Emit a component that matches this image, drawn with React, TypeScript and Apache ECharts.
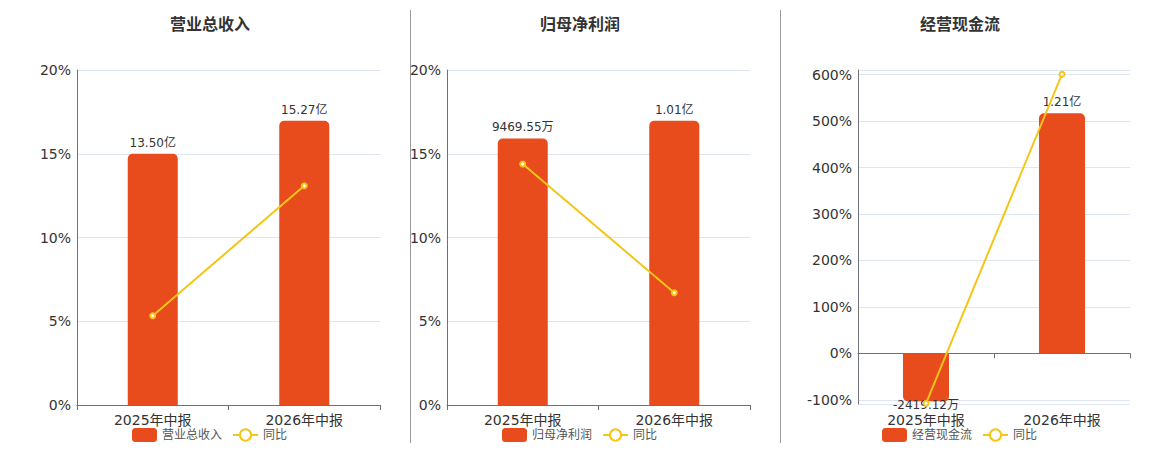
import React, { useEffect, useRef } from "react";
import * as echarts from "echarts";

// ---- data ----
const categories = ["2025年中报", "2026年中报"];
const panelTitles = ["营业总收入", "归母净利润", "经营现金流"];
const yoyName = "同比";

// values in 亿
const revenueValues = [13.5, 15.27];
const revenueLabels = ["13.50亿", "15.27亿"];
const revenueYoY = [5.33, 13.09];

const profitValues = [0.946955, 1.01];
const profitLabels = ["9469.55万", "1.01亿"];
const profitYoY = [14.39, 6.7];

const cashValues = [-0.241912, 1.21];
const cashLabels = ["-2419.12万", "1.21亿"];
const cashYoY = [-107.5, 601];

// axis ranges
const pctAxisMin = [0, 0, -109];
const pctAxisMax = [20, 20, 610];
const pctAxisInterval: (number | undefined)[] = [5, 5, undefined];
const barAxisMin = [0, 0, -0.2552];
const barAxisMax = [18, 1.19, 1.428];

const BAR_COLOR = "#E84B1C";
const LINE_COLOR = "#F5C518";
const FONT = "DejaVu Sans, 'Noto Sans CJK SC', sans-serif";

const panels = [
  { left: 77, width: 303, top: 70, height: 335, center: 210, barWidth: 50, legendLeft: 132, values: revenueValues, labels: revenueLabels, yoy: revenueYoY },
  { left: 447, width: 303, top: 70, height: 335, center: 580, barWidth: 50, legendLeft: 502, values: profitValues, labels: profitLabels, yoy: profitYoY },
  { left: 858, width: 272, top: 70, height: 334, center: 960, barWidth: 46, legendLeft: 882, values: cashValues, labels: cashLabels, yoy: cashYoY },
];

function buildOption() {
  const grid: any[] = [];
  const xAxis: any[] = [];
  const yAxis: any[] = [];
  const series: any[] = [];
  const legend: any[] = [];
  const title: any[] = [];

  panels.forEach((p, i) => {
    grid.push({
      left: p.left,
      top: p.top,
      width: p.width,
      height: p.height,
      containLabel: false,
      outerBoundsMode: "none",
    });
    title.push({
      text: panelTitles[i],
      left: p.center,
      top: 16,
      padding: 0,
      textAlign: "center",
      textStyle: { fontSize: 16, fontWeight: "bold", color: "#333", fontFamily: FONT },
    });
    const hasNeg = pctAxisMin[i] < 0;
    const mainXIndex = xAxis.length;
    xAxis.push({
      type: "category",
      gridIndex: i,
      data: categories,
      axisLine: { show: true, onZero: true, lineStyle: { color: "#6E7079" } },
      axisTick: { show: true, lineStyle: { color: "#6E7079" } },
      axisLabel: { show: !hasNeg, fontSize: 14, color: "#333", fontFamily: FONT, margin: 8 },
    });
    if (hasNeg) {
      // label-only axis at the grid bottom
      xAxis.push({
        type: "category",
        gridIndex: i,
        position: "bottom",
        data: categories,
        axisLine: { show: false, onZero: false },
        axisTick: { show: false },
        splitLine: { show: false },
        axisLabel: { show: true, fontSize: 14, color: "#333", fontFamily: FONT, margin: 9 },
      });
    }
    const pctAxis: any = {
      type: "value",
      gridIndex: i,
      min: pctAxisMin[i],
      max: pctAxisMax[i],
      axisLine: { show: true, lineStyle: { color: "#6E7079" } },
      axisTick: { show: false },
      splitLine: { show: true, lineStyle: { color: "#E0E6F1" } },
      axisLabel: {
        formatter: "{value}%",
        fontSize: 14,
        color: "#333",
        fontFamily: FONT,
        margin: 6,
      },
    };
    if (pctAxisInterval[i] !== undefined) pctAxis.interval = pctAxisInterval[i];
    if (hasNeg) {
      pctAxis.axisLabel.showMinLabel = false;
      pctAxis.axisLabel.showMaxLabel = false;
    }
    yAxis.push(pctAxis);
    yAxis.push({
      type: "value",
      gridIndex: i,
      min: barAxisMin[i],
      max: barAxisMax[i],
      show: false,
      splitLine: { show: false },
    });

    const labels = p.labels;
    series.push({
      name: panelTitles[i],
      type: "bar",
      xAxisIndex: mainXIndex,
      yAxisIndex: 2 * i + 1,
      barWidth: p.barWidth,
      itemStyle: { color: BAR_COLOR },
      z: 2,
      data: p.values.map((v) => {
        const neg = v < 0;
        return {
          value: v,
          itemStyle: { color: BAR_COLOR, borderRadius: neg ? [0, 0, 5, 5] : [5, 5, 0, 0] },
          label: neg
            ? { show: true, position: "bottom", distance: -2 }
            : { show: true, position: "top", distance: 5 },
        };
      }),
      label: {
        show: true,
        fontSize: 12,
        color: "#333",
        fontFamily: FONT,
        formatter: (params: any) => labels[params.dataIndex],
      },
    });
    series.push({
      name: yoyName,
      type: "line",
      xAxisIndex: mainXIndex,
      yAxisIndex: 2 * i,
      data: p.yoy,
      symbol: "emptyCircle",
      symbolSize: 5,
      z: 5,
      itemStyle: { color: LINE_COLOR, borderWidth: 1.5 },
      lineStyle: { color: LINE_COLOR, width: 2 },
    });
    legend.push({
      data: [panelTitles[i], yoyName],
      left: p.legendLeft,
      top: 428,
      padding: 0,
      itemWidth: 25,
      itemHeight: 14,
      itemGap: 10,
      textStyle: { fontSize: 12, color: "#555", fontFamily: FONT },
    });
  });

  return {
    animation: false,
    backgroundColor: "#fff",
    textStyle: { fontFamily: FONT },
    title,
    legend,
    grid,
    xAxis,
    yAxis,
    series,
    graphic: [
      { type: "line", shape: { x1: 410.5, y1: 10, x2: 410.5, y2: 443 }, style: { stroke: "#999", lineWidth: 1 } },
      { type: "line", shape: { x1: 780.5, y1: 10, x2: 780.5, y2: 443 }, style: { stroke: "#999", lineWidth: 1 } },
    ],
  };
}

export default function App() {
  const ref = useRef<HTMLDivElement>(null);
  useEffect(() => {
    if (!ref.current) return;
    const chart = echarts.init(ref.current, undefined, { renderer: "svg" });
    chart.setOption(buildOption() as any);
    return () => chart.dispose();
  }, []);
  return (
    <div
      ref={ref}
      style={{ position: "absolute", left: 0, top: 0, width: 1160, height: 450, background: "#fff" }}
    />
  );
}
